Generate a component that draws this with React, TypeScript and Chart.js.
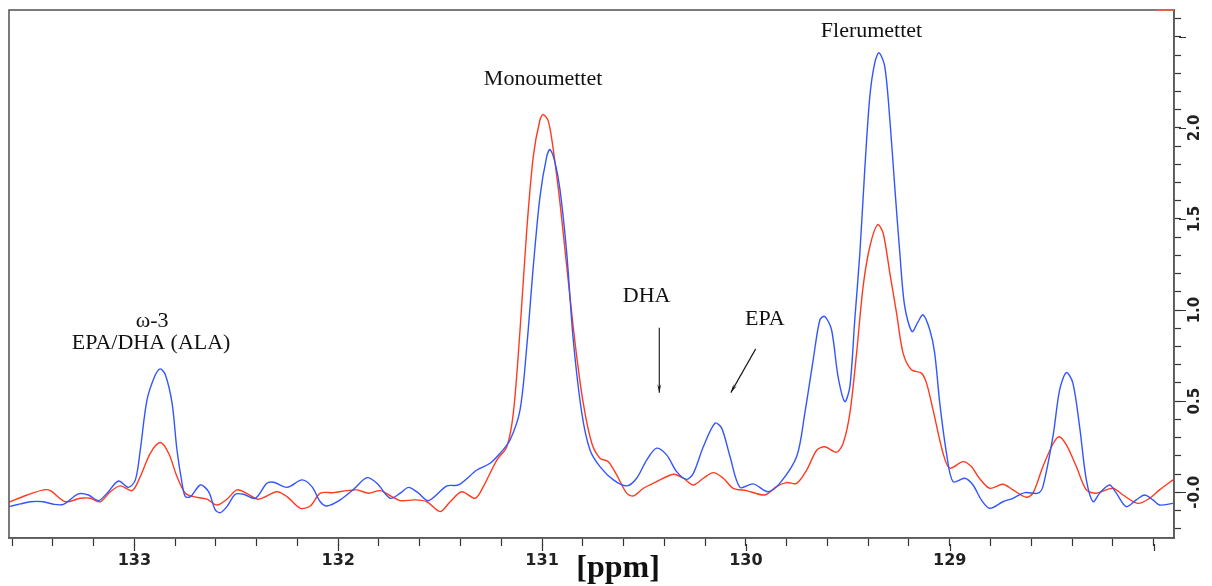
import React, { useEffect, useRef } from "react";
import { Chart, registerables } from "chart.js";

Chart.register(...registerables);

// chemical shift (ppm) and intensity, blue spectrum
const blueX = [
  133.616, 133.559, 133.51, 133.446, 133.397, 133.348, 133.275, 133.225, 133.176, 133.134,
  133.078, 133.029, 132.995, 132.971, 132.938, 132.897, 132.873, 132.848, 132.815, 132.791,
  132.766, 132.75, 132.725, 132.676, 132.636, 132.603, 132.578, 132.546, 132.505, 132.464,
  132.407, 132.35, 132.317, 132.251, 132.178, 132.129, 132.088, 132.055, 131.99, 131.925,
  131.859, 131.81, 131.745, 131.696, 131.655, 131.606, 131.557, 131.467, 131.41, 131.32,
  131.255, 131.206, 131.157, 131.108, 131.075, 131.043, 131.01, 130.977, 130.961, 130.936,
  130.912, 130.879, 130.847, 130.805, 130.765, 130.716, 130.65, 130.585, 130.536, 130.487,
  130.438, 130.389, 130.34, 130.291, 130.258, 130.209, 130.152, 130.119, 130.078, 130.029,
  129.964, 129.891, 129.833, 129.751, 129.711, 129.67, 129.637, 129.613, 129.58, 129.548,
  129.515, 129.49, 129.466, 129.441, 129.417, 129.392, 129.368, 129.347, 129.319, 129.294,
  129.27, 129.245, 129.221, 129.185, 129.155, 129.131, 129.098, 129.074, 129.049, 129.016,
  128.984, 128.926, 128.886, 128.845, 128.804, 128.739, 128.69, 128.632, 128.567, 128.543,
  128.494, 128.461, 128.428, 128.396, 128.363, 128.33, 128.297, 128.265, 128.216, 128.183,
  128.134, 128.085, 128.044, 128.003, 127.971, 127.905,
];
const blueY = [
  -0.079, -0.064, -0.052, -0.052, -0.066, -0.066, -0.009, -0.015, -0.046, -0.005,
  0.062, 0.027, 0.068, 0.232, 0.507, 0.645, 0.677, 0.645, 0.489, 0.232,
  0.049, -0.024, -0.024, 0.04, 0.003, -0.097, -0.112, -0.079, -0.011, -0.011,
  -0.033, 0.049, 0.055, 0.027, 0.068, 0.031, -0.052, -0.075, -0.042, 0.016,
  0.08, 0.049, -0.033, -0.005, 0.027, -0.005, -0.046, 0.035, 0.04, 0.122,
  0.159, 0.214, 0.287, 0.452, 0.8, 1.24, 1.624, 1.844, 1.881, 1.808,
  1.661, 1.313, 0.837, 0.434, 0.232, 0.141, 0.068, 0.035, 0.077, 0.177,
  0.242, 0.205, 0.113, 0.071, 0.104, 0.25, 0.379, 0.352, 0.196, 0.027,
  0.046, 0.003, 0.05, 0.196, 0.434, 0.727, 0.947, 0.965, 0.892, 0.635,
  0.498, 0.58, 0.947, 1.313, 1.771, 2.174, 2.357, 2.412, 2.338, 2.046,
  1.679, 1.313, 1.02, 0.882, 0.937, 0.974, 0.892, 0.764, 0.489, 0.214,
  0.058, 0.077, 0.04, -0.042, -0.088, -0.052, -0.033, -0.002, -0.005, 0.031,
  0.305, 0.562, 0.657, 0.599, 0.36, 0.068, -0.052, -0.005, 0.04, -0.005,
  -0.079, -0.042, -0.015, -0.042, -0.07, -0.061,
];

// red spectrum
const redX = [
  133.616, 133.526, 133.445, 133.412, 133.338, 133.265, 133.216, 133.167, 133.118, 133.069,
  133.011, 132.971, 132.922, 132.873, 132.832, 132.791, 132.75, 132.709, 132.644, 132.595,
  132.546, 132.497, 132.456, 132.391, 132.301, 132.251, 132.186, 132.137, 132.088, 132.023,
  131.957, 131.908, 131.851, 131.794, 131.737, 131.696, 131.623, 131.565, 131.5, 131.451,
  131.394, 131.328, 131.288, 131.222, 131.173, 131.141, 131.108, 131.075, 131.043, 131.01,
  130.994, 130.969, 130.945, 130.912, 130.879, 130.838, 130.798, 130.756, 130.716, 130.675,
  130.634, 130.585, 130.552, 130.503, 130.438, 130.356, 130.307, 130.258, 130.209, 130.16,
  130.111, 130.062, 129.997, 129.907, 129.851, 129.801, 129.751, 129.702, 129.652, 129.613,
  129.555, 129.523, 129.49, 129.457, 129.425, 129.392, 129.354, 129.327, 129.294, 129.261,
  129.229, 129.188, 129.139, 129.114, 129.082, 129.033, 129.0, 128.935, 128.894, 128.855,
  128.804, 128.739, 128.69, 128.625, 128.592, 128.543, 128.494, 128.464, 128.428, 128.379,
  128.33, 128.281, 128.2, 128.15, 128.077, 128.02, 127.971, 127.905,
];
const redY = [
  -0.055, -0.015, 0.013, 0.009, -0.052, -0.033, -0.033, -0.052, 0.003, 0.035,
  0.009, 0.086, 0.214, 0.273, 0.214, 0.086, -0.005, -0.024, -0.038, -0.07,
  -0.038, 0.013, -0.002, -0.038, 0.003, -0.024, -0.088, -0.075, -0.005, -0.002,
  0.009, 0.013, -0.005, 0.009, -0.024, -0.046, -0.042, -0.052, -0.106, -0.052,
  0.003, -0.033, 0.031, 0.177, 0.25, 0.434, 0.892, 1.441, 1.844, 2.046,
  2.073, 2.036, 1.881, 1.588, 1.24, 0.819, 0.489, 0.269, 0.187, 0.168,
  0.095, -0.005, -0.02, 0.022, 0.058, 0.099, 0.077, 0.04, 0.077, 0.108,
  0.077, 0.022, 0.009, -0.015, 0.031, 0.053, 0.049, 0.122, 0.232, 0.25,
  0.22, 0.269, 0.434, 0.764, 1.13, 1.349, 1.469, 1.423, 1.203, 0.983,
  0.764, 0.672, 0.654, 0.599, 0.452, 0.214, 0.132, 0.168, 0.141, 0.077,
  0.022, 0.044, 0.013, -0.027, -0.005, 0.141, 0.265, 0.305, 0.26, 0.141,
  0.013, -0.005, 0.022, -0.015, -0.061, -0.033, 0.013, 0.068,
];

const xTickLabels = [129, 130, 131, 132, 133];
const xMajorTicks = [128, 129, 130, 131, 132, 133];
const yTickLabels = [0, 0.5, 1.0, 1.5, 2.0];
const yMajorTicks = [0, 0.5, 1.0, 1.5, 2.0, 2.5];

const annotations = [
  { text: "ω-3", x: 132.913, y: 0.937 },
  { text: "EPA/DHA (ALA)", x: 132.918, y: 0.82 },
  { text: "Monoumettet", x: 130.995, y: 2.265 },
  { text: "DHA", x: 130.487, y: 1.075 },
  { text: "EPA", x: 129.907, y: 0.952 },
  { text: "Flerumettet", x: 129.384, y: 2.531 },
];
const arrows = [
  { x1: 130.425, y1: 0.903, x2: 130.425, y2: 0.546 },
  { x1: 129.952, y1: 0.787, x2: 130.074, y2: 0.547 },
];

const toPoints = (xs: number[], ys: number[]) => xs.map((x, i) => ({ x, y: ys[i] }));

const decorPlugin = {
  id: "decor",
  afterDraw(chart: any) {
    const { ctx, chartArea, scales } = chart;
    const xs = scales.x;
    const ys = scales.y;
    ctx.save();
    // frame
    ctx.strokeStyle = "#5a5a5a";
    ctx.lineWidth = 1.6;
    ctx.strokeRect(chartArea.left, chartArea.top, chartArea.right - chartArea.left, chartArea.bottom - chartArea.top);
    // small red mark on the top border
    ctx.strokeStyle = "#ff5a40";
    ctx.lineWidth = 1.6;
    ctx.beginPath();
    ctx.moveTo(xs.getPixelForValue(127.985), chartArea.top);
    ctx.lineTo(chartArea.right, chartArea.top);
    ctx.stroke();
    // longer major ticks
    ctx.strokeStyle = "#333";
    ctx.lineWidth = 1.2;
    ctx.beginPath();
    xMajorTicks.forEach((v) => {
      const px = Math.round(xs.getPixelForValue(v)) + 0.5;
      ctx.moveTo(px, chartArea.bottom + 6);
      ctx.lineTo(px, chartArea.bottom + 13);
    });
    yMajorTicks.forEach((v) => {
      const py = Math.round(ys.getPixelForValue(v)) + 0.5;
      ctx.moveTo(chartArea.right + 5, py);
      ctx.lineTo(chartArea.right + 12, py);
    });
    ctx.stroke();
    // annotations
    ctx.fillStyle = "#111";
    ctx.font = '22px "Liberation Serif", serif';
    ctx.textAlign = "center";
    ctx.textBaseline = "middle";
    annotations.forEach((a) => {
      ctx.fillText(a.text, xs.getPixelForValue(a.x), ys.getPixelForValue(a.y));
    });
    // arrows
    ctx.strokeStyle = "#111";
    ctx.lineWidth = 1.1;
    arrows.forEach((a) => {
      const x1 = xs.getPixelForValue(a.x1);
      const y1 = ys.getPixelForValue(a.y1);
      const x2 = xs.getPixelForValue(a.x2);
      const y2 = ys.getPixelForValue(a.y2);
      ctx.beginPath();
      ctx.moveTo(x1, y1);
      ctx.lineTo(x2, y2);
      ctx.stroke();
      const ang = Math.atan2(y2 - y1, x2 - x1);
      const len = 9;
      const half = 0.22;
      ctx.beginPath();
      ctx.moveTo(x2, y2);
      ctx.lineTo(x2 - len * Math.cos(ang - half), y2 - len * Math.sin(ang - half));
      ctx.lineTo(x2 - len * 0.6 * Math.cos(ang), y2 - len * 0.6 * Math.sin(ang));
      ctx.lineTo(x2 - len * Math.cos(ang + half), y2 - len * Math.sin(ang + half));
      ctx.closePath();
      ctx.fill();
    });
    // axis title
    ctx.font = 'bold 32px "Liberation Serif", serif';
    ctx.fillText("[ppm]", 618, 569);
    ctx.restore();
  },
};

export default function App() {
  const ref = useRef<HTMLCanvasElement>(null);
  useEffect(() => {
    const chart = new Chart(ref.current as HTMLCanvasElement, {
      type: "line",
      data: {
        datasets: [
          {
            label: "blue",
            data: toPoints(blueX, blueY),
            borderColor: "#3355ff",
            borderWidth: 1.4,
            pointRadius: 0,
            tension: 0.3,
            fill: false,
          },
          {
            label: "red",
            data: toPoints(redX, redY),
            borderColor: "#ff3b1f",
            borderWidth: 1.4,
            pointRadius: 0,
            tension: 0.3,
            fill: false,
          },
        ],
      },
      options: {
        animation: false,
        responsive: true,
        maintainAspectRatio: false,
        layout: { padding: { left: 9, top: 10, right: 0, bottom: 0 } },
        plugins: { legend: { display: false }, tooltip: { enabled: false } },
        scales: {
          x: {
            type: "linear",
            position: "bottom",
            reverse: true,
            min: 127.9,
            max: 133.615,
            afterFit: (s: any) => {
              s.height = 48;
            },
            border: { display: true, color: "#5a5a5a", width: 1.6 },
            grid: { drawOnChartArea: false, drawTicks: true, tickLength: 8, tickColor: "#333", tickWidth: 1.2 },
            ticks: {
              stepSize: 0.2,
              autoSkip: false,
              includeBounds: false,
              maxRotation: 0,
              minRotation: 0,
              padding: 5,
              color: "#222",
              font: { family: '"DejaVu Sans", sans-serif', size: 16, weight: "bold" },
              callback: (v: any) => {
                const n = Number(v);
                const r = Math.round(n);
                return Math.abs(n - r) < 1e-6 && xTickLabels.includes(r) ? String(r) : "";
              },
            },
          },
          y: {
            type: "linear",
            position: "right",
            min: -0.251,
            max: 2.647,
            afterFit: (s: any) => {
              s.width = 38;
            },
            border: { display: true, color: "#5a5a5a", width: 1.6 },
            grid: { drawOnChartArea: false, drawTicks: true, tickLength: 7, tickColor: "#333", tickWidth: 1.2 },
            ticks: {
              stepSize: 0.1,
              autoSkip: false,
              includeBounds: false,
              minRotation: 90,
              maxRotation: 90,
              crossAlign: "center",
              padding: -2,
              color: "#222",
              font: { family: '"DejaVu Sans", sans-serif', size: 15, weight: "bold" },
              callback: (v: any) => {
                const n = Number(v);
                const r = Math.round(n * 2) / 2;
                if (Math.abs(n - r) < 1e-6 && yTickLabels.includes(r)) {
                  return Math.abs(r) < 1e-6 ? "-0.0" : r.toFixed(1);
                }
                return "";
              },
            },
          },
        },
      },
      plugins: [decorPlugin],
    } as any);
    return () => chart.destroy();
  }, []);
  return (
    <div style={{ position: "absolute", left: 0, top: 0, width: 1212, height: 586 }}>
      <canvas ref={ref} />
    </div>
  );
}
